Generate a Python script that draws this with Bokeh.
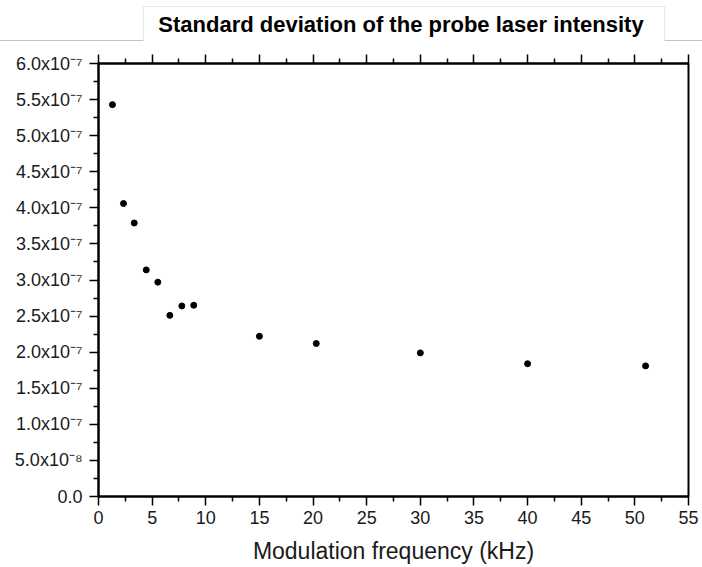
from bokeh.plotting import figure
from bokeh.layouts import column
from bokeh.models import LinearAxis, Range1d, FixedTicker, CustomJSTickFormatter, Div
from bokeh.embed import file_html
from bokeh.resources import INLINE

# ---- data ----
freq_khz = [1.3, 2.33, 3.33, 4.45, 5.53, 6.65, 7.77, 8.88, 15.0, 20.3, 30.0, 40.0, 51.0]
std_dev = [5.43e-7, 4.06e-7, 3.79e-7, 3.14e-7, 2.97e-7, 2.51e-7, 2.64e-7, 2.65e-7,
           2.22e-7, 2.12e-7, 1.99e-7, 1.84e-7, 1.81e-7]

x_ticks = [0, 5, 10, 15, 20, 25, 30, 35, 40, 45, 50, 55]
y_ticks = [0.0, 0.5e-7, 1.0e-7, 1.5e-7, 2.0e-7, 2.5e-7, 3.0e-7, 3.5e-7, 4.0e-7,
           4.5e-7, 5.0e-7, 5.5e-7, 6.0e-7]
y_tick_labels = ["0.0", "5.0x10\u207b\u2078", "1.0x10\u207b\u2077", "1.5x10\u207b\u2077",
                 "2.0x10\u207b\u2077", "2.5x10\u207b\u2077", "3.0x10\u207b\u2077",
                 "3.5x10\u207b\u2077", "4.0x10\u207b\u2077", "4.5x10\u207b\u2077",
                 "5.0x10\u207b\u2077", "5.5x10\u207b\u2077", "6.0x10\u207b\u2077"]

title_text = "Standard deviation of the probe laser intensity"
x_title = "Modulation frequency (kHz)"

FONT = "Liberation Sans"
W, H_HEAD, H_MAIN = 702, 45, 522

x_minor = [(a + b) / 2 for a, b in zip(x_ticks[:-1], x_ticks[1:])]
y_minor = [(a + b) / 2 for a, b in zip(y_ticks[:-1], y_ticks[1:])]

# ---------- header strip with the title ----------
header_html = (
    '<div style="position:relative;width:702px;height:45px;background:white;margin:0;">'
    '<div style="position:absolute;left:0;top:40px;width:702px;height:1px;background:#c4c4c4;"></div>'
    '<div style="position:absolute;left:143px;top:6px;width:522px;height:35px;'
    'box-sizing:border-box;background:white;border:1px solid #e8e8e8;border-bottom:none;'
    'display:flex;align-items:center;justify-content:center;'
    "font-family:'Liberation Sans',Arial,sans-serif;font-weight:bold;font-size:22px;"
    'color:black;white-space:nowrap;line-height:1;padding-top:2px;padding-right:6px;">'
    + title_text +
    '</div></div>'
)
head = Div(text=header_html, width=W, height=H_HEAD, margin=0)

# ---------- main plot ----------
p = figure(width=W, height=H_MAIN, output_backend="svg", toolbar_location=None,
           x_range=Range1d(0, 55), y_range=Range1d(0, 6e-7),
           x_axis_location=None, y_axis_location=None,
           min_border_left=98, min_border_right=14,
           min_border_top=63 - H_HEAD, min_border_bottom=71, margin=0)
p.xgrid.visible = False
p.ygrid.visible = False
p.background_fill_color = "white"
p.border_fill_color = "white"
p.outline_line_color = "black"
p.outline_line_width = 2
p.outline_line_alpha = 1


def style(ax):
    ax.axis_line_width = 2
    ax.axis_line_color = "black"
    ax.major_tick_line_width = 1.5
    ax.minor_tick_line_width = 1.5
    ax.major_tick_in = 0
    ax.major_tick_out = 9
    ax.minor_tick_in = 0
    ax.minor_tick_out = 5
    ax.major_label_text_font = FONT
    ax.major_label_text_font_size = "18px"
    ax.major_label_text_color = "#1a1a1a"


xaxis = LinearAxis(ticker=FixedTicker(ticks=x_ticks, minor_ticks=x_minor))
style(xaxis)
xaxis.major_label_standoff = 5
xaxis.axis_label = x_title
xaxis.axis_label_text_font = FONT
xaxis.axis_label_text_font_style = "normal"
xaxis.axis_label_text_font_size = "23px"
xaxis.axis_label_text_color = "#1a1a1a"
xaxis.axis_label_standoff = 11
p.add_layout(xaxis, "below")

yaxis = LinearAxis(ticker=FixedTicker(ticks=y_ticks, minor_ticks=y_minor))
style(yaxis)
yaxis.major_label_standoff = 7
yaxis.major_label_overrides = {v: s for v, s in zip(y_ticks, y_tick_labels)}
p.add_layout(yaxis, "left")

top_axis = LinearAxis(ticker=FixedTicker(ticks=x_ticks, minor_ticks=x_minor),
                      formatter=CustomJSTickFormatter(code="return ''"))
style(top_axis)
top_axis.major_label_standoff = 0
p.add_layout(top_axis, "above")

p.scatter(freq_khz, std_dev, size=6, marker="circle", color="black")

layout = column(head, p, spacing=0, margin=0)
open("out.html", "w").write(file_html(layout, INLINE))
